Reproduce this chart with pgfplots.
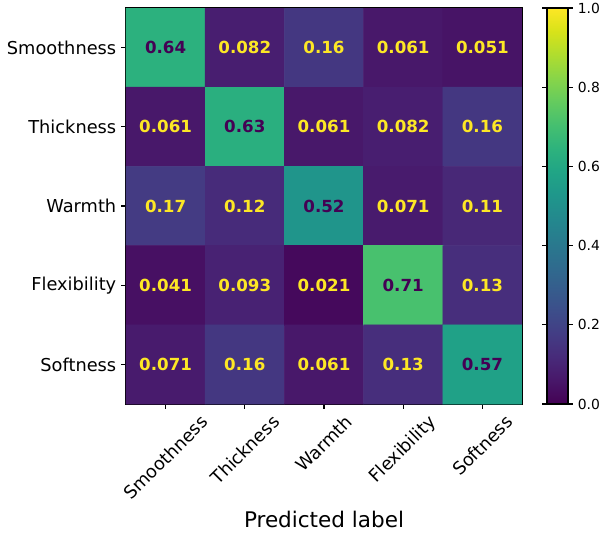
\documentclass[border=0pt]{standalone}
\usepackage{pgfplots}
\pgfplotsset{compat=1.18}
\usepackage{pgfplotstable}
\usepackage{graphicx}
\usepackage{fontspec}
\setmainfont{DejaVu Sans}
\usepgfplotslibrary{colormaps}
\newlength\px \setlength\px{0.72pt}
\definecolor{vdark}{HTML}{440154}
\definecolor{vyellow}{HTML}{FDE725}

\pgfplotstableread{
x y z
0 0 0.64
1 0 0.082
2 0 0.16
3 0 0.061
4 0 0.051
0 1 0.061
1 1 0.63
2 1 0.061
3 1 0.082
4 1 0.16
0 2 0.17
1 2 0.12
2 2 0.52
3 2 0.071
4 2 0.11
0 3 0.041
1 3 0.093
2 3 0.021
3 3 0.71
4 3 0.13
0 4 0.071
1 4 0.16
2 4 0.061
3 4 0.13
4 4 0.57
}\cm

\begin{document}
\begin{tikzpicture}
\path[use as bounding box] (-126\px,-129\px) rectangle (477\px,404\px);
\begin{axis}[
  at={(0,0)}, anchor=south west,
  width=396\px, height=396\px, scale only axis,
  xmin=-0.5, xmax=4.5, ymin=-0.5, ymax=4.5, y dir=reverse,
  enlargelimits=false,
  xtick={0,...,4}, ytick={0,...,4},
  xticklabels={\rotatebox{45}{Smoothness},\rotatebox{45}{Thickness},\rotatebox{45}{Warmth},\rotatebox{45}{Flexibility},\rotatebox{45}{Softness}},
  yticklabels={Smoothness,Thickness,Warmth,Flexibility,Softness},
  xticklabel style={anchor=north, font=\fontsize{12.8}{15}\selectfont},
  yticklabel style={font=\fontsize{12.8}{15}\selectfont},
  tick align=outside, major tick length=3.5pt,
  tick style={black, line width=0.8pt},
  xtick pos=lower, ytick pos=left,
  axis line style={line width=0.8pt},
  xlabel={Predicted label},
  xlabel style={font=\fontsize{15.5}{18}\selectfont, yshift=-1\px},
  colormap/viridis,
  point meta min=0, point meta max=1,
  colorbar,
  colorbar shift/.style={xshift=0pt},
  colorbar/width=21\px,
  colorbar style={
    scale only axis,
    width=21\px,
    at={(parent axis.north east)}, anchor=north west, xshift=25\px,
    ytick={0,0.2,0.4,0.6,0.8,1},
    yticklabel style={font=\fontsize{10}{12}\selectfont,
      /pgf/number format/.cd, fixed, fixed zerofill, precision=1, assume math mode=true},
    tick align=outside, major tick length=3.5pt,
    tick style={black, line width=0.8pt},
    axis line style={line width=0.8pt},
  },
]
\addplot[matrix plot*, mesh/cols=5, point meta=explicit] table[x=x, y=y, meta=z] {\cm};
\addplot[draw=none, mark=none, point meta=explicit symbolic,
  nodes near coords={\ifdim\pgfplotspointmeta pt>0.5pt\color{vdark}\else\color{vyellow}\fi\pgfplotspointmeta},
  nodes near coords align=center,
  every node near coord/.append style={font=\fontsize{12}{14}\selectfont\bfseries, anchor=center}]
  table[x=x, y=y, meta=z] {\cm};
\end{axis}
\end{tikzpicture}
\end{document}
